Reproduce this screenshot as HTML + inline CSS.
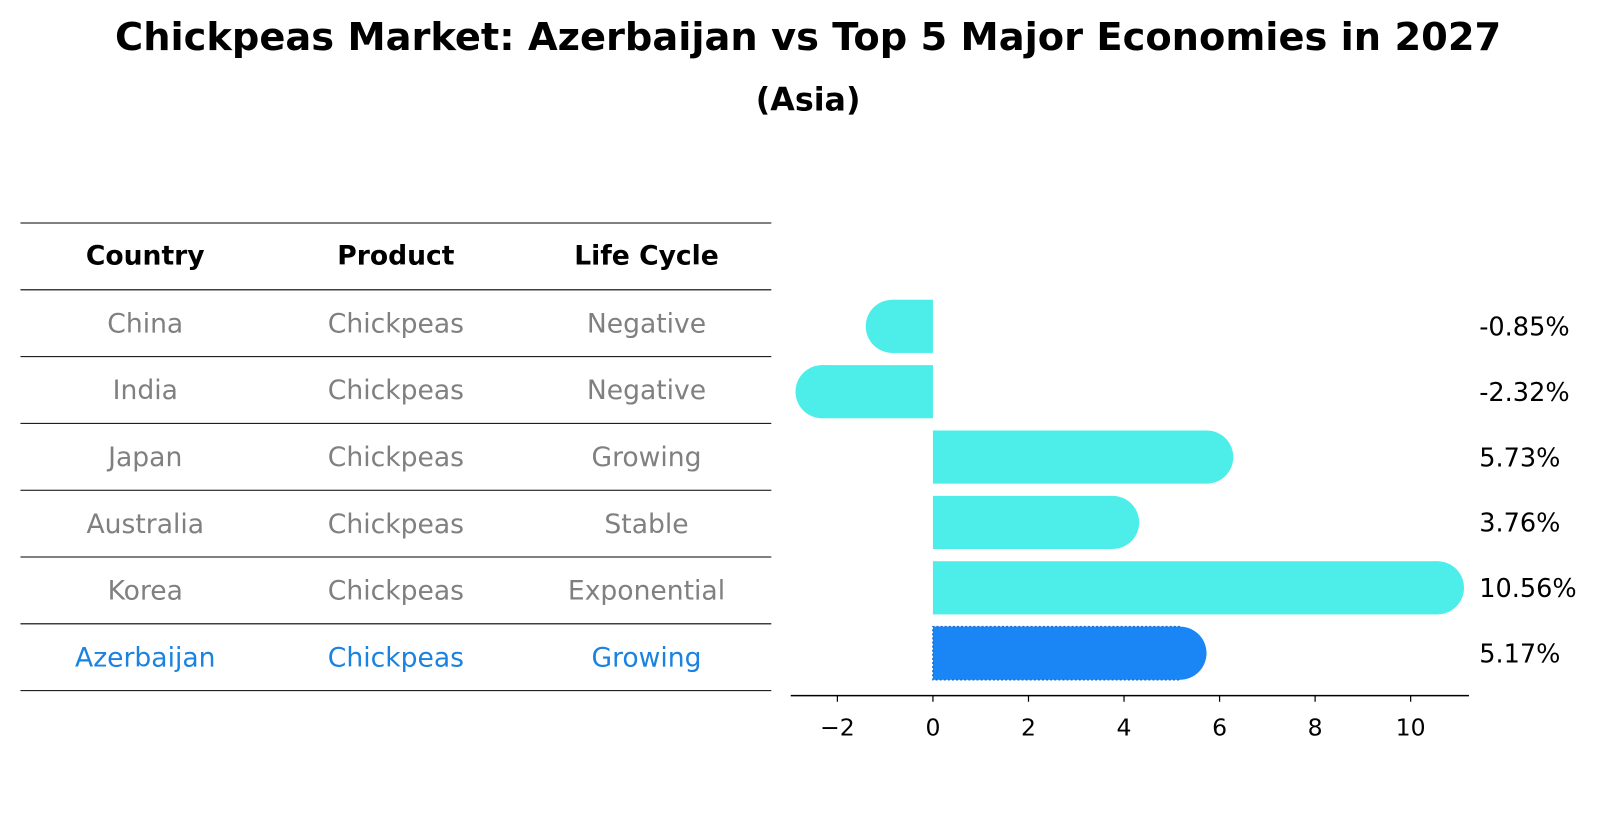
<!DOCTYPE html>
<html><head><meta charset="utf-8"><style>
body{margin:0;background:#fff;font-family:"Liberation Sans","DejaVu Sans",sans-serif;}
svg text{font-family:"DejaVu Sans","Liberation Sans",sans-serif;}
</style></head><body>
<svg width="1604" height="823" viewBox="0 0 1568 804.5" preserveAspectRatio="none">
<text x="790" y="49" text-anchor="middle" font-size="37.5" font-weight="bold">Chickpeas Market: Azerbaijan vs Top 5 Major Economies in 2027</text>
<text x="790" y="108" text-anchor="middle" font-size="31" font-weight="bold">(Asia)</text>
<g id="table"></g>
<g id="bars"></g>
</svg>
<script>
const countries=["China","India","Japan","Australia","Korea","Azerbaijan"];
const products=["Chickpeas","Chickpeas","Chickpeas","Chickpeas","Chickpeas","Chickpeas"];
const lifeCycles=["Negative","Negative","Growing","Stable","Exponential","Growing"];
const growth=[-0.85,-2.32,5.73,3.76,10.56,5.17];
const xTicks=[-2,0,2,4,6,8,10];
const NS="http://www.w3.org/2000/svg";
function mk(tag,attrs,parent){const e=document.createElementNS(NS,tag);for(const k in attrs)e.setAttribute(k,attrs[k]);parent.appendChild(e);return e;}
const tbl=document.getElementById('table');
const rowTop=218,rowH=65.3,colX=[142,387,632];
for(let i=0;i<=countries.length+1;i++){
  const l=mk('line',{x1:20,x2:754,y1:rowTop+i*rowH,y2:rowTop+i*rowH,stroke:'#000','stroke-width':1},tbl);
  
  
}
["Country","Product","Life Cycle"].forEach((h,j)=>{
  const t=mk('text',{x:colX[j],y:rowTop+rowH/2+8,'text-anchor':'middle','font-size':26,'font-weight':'bold'},tbl);
  t.textContent=h;
  
  
});
countries.forEach((c,i)=>{
  const col=i===countries.length-1?'#1a82e0':'#808080';
  [c,products[i],lifeCycles[i]].forEach((v,j)=>{
    const t=mk('text',{x:colX[j],y:rowTop+(i+1.5)*rowH+9,'text-anchor':'middle','font-size':26,fill:col},tbl);
    t.textContent=v;
    
    
  });
});
const bars=document.getElementById('bars');
const x0=912,pxu=46.7;
const xs=v=>x0+v*pxu;
const yc=i=>319+i*63.9;
const bh=52,r=26;
growth.forEach((v,i)=>{
  const last=i===growth.length-1;
  const fill=last?'#1a85f5':'#4deeea';
  const g=mk('g',{},bars);
  
  
  const a=Math.min(xs(0),xs(v)),b=Math.max(xs(0),xs(v));
  mk('rect',{x:a,y:yc(i)-bh/2,width:b-a,height:bh,fill:fill},g);
  mk('circle',{cx:xs(v),cy:yc(i),r:r,fill:fill},g);
  if(last){mk('path',{d:`M${xs(v)} ${yc(i)-bh/2} H${a} V${yc(i)+bh/2} H${xs(v)}`,fill:'none',stroke:'#1a6fd0','stroke-width':1.5,'stroke-dasharray':'2,2'},g);}
  const t=mk('text',{x:1446,y:yc(i)+9,'font-size':25},bars);
  t.textContent=v.toFixed(2)+'%';
  
  
});
const ax=mk('line',{x1:773,x2:1436,y1:680,y2:680,stroke:'#000','stroke-width':1.5},bars);


xTicks.forEach(v=>{
  mk('line',{x1:xs(v),x2:xs(v),y1:680,y2:686,stroke:'#000','stroke-width':1.2},bars);
  const t=mk('text',{x:xs(v),y:719,'text-anchor':'middle','font-size':23},bars);
  t.textContent=v<0?'\u2212'+Math.abs(v):String(v);
  
  
});
</script>
</body></html>
